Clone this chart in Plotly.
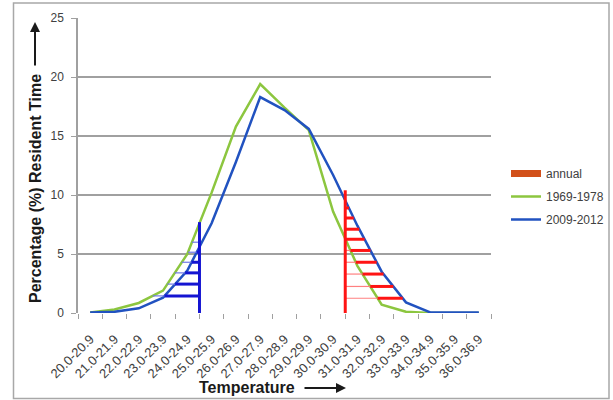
import plotly.graph_objects as go

categories = ["20.0-20.9", "21.0-21.9", "22.0-22.9", "23.0-23.9", "24.0-24.9",
              "25.0-25.9", "26.0-26.9", "27.0-27.9", "28.0-28.9", "29.0-29.9",
              "30.0-30.9", "31.0-31.9", "32.0-32.9", "33.0-33.9", "34.0-34.9",
              "35.0-35.9", "36.0-36.9"]
green_1969_1978 = [0.05, 0.3, 0.85, 1.9, 5.0, 10.2, 15.8, 19.4, 17.4, 15.5,
                   8.6, 4.0, 0.7, 0.1, 0.0, 0.0, 0.0]
blue_2009_2012 = [0.05, 0.1, 0.4, 1.3, 3.6, 7.6, 12.8, 18.3, 17.2, 15.6,
                  11.7, 7.4, 3.5, 0.9, 0.05, 0.05, 0.05]
y_ticks = [0, 5, 10, 15, 20, 25]

# hatching (cold side, blue) and (warm side, red)
cold_cut_category = 5      # cut at left boundary of "25.0-25.9"
cold_cut_top = 7.7
cold_levels = [1.45, 2.45, 3.4, 4.3, 5.15, 6.0]
warm_cut_category = 11     # cut at left boundary of "31.0-31.9"
warm_cut_top = 10.4
warm_levels = [1.25, 2.25, 3.3, 4.3, 5.3, 6.25, 7.1, 8.05, 8.9]

x = list(range(len(categories)))

# plot area in pixels
PL, PR, PT, PB = 78, 491, 18, 313
W, H = 613, 400


def px(xp):
    return (xp - PL) / (PR - PL)


def py(yp):
    return (PB - yp) / (PB - PT)


def cross(y, level, lo, hi):
    for i in range(lo, hi):
        a, b = y[i], y[i + 1]
        if a != b and (a - level) * (b - level) <= 0:
            return i + (level - a) / (b - a)
    return None


GREEN = "#8cc63f"
BLUE = "#2152c0"
HBLUE = "#1414d2"
HBLUE_T = "#6f78e6"
HRED = "#ff1414"
HRED_T = "#ff8080"
peak = green_1969_1978.index(max(green_1969_1978))

fig = go.Figure()

# legend-only entry for "annual"
fig.add_trace(go.Scatter(x=[None], y=[None], mode="lines", name="annual", legendgroup="a",
                         line=dict(color="#d2501a", width=7)))
fig.add_trace(go.Scatter(x=x, y=green_1969_1978, mode="lines", name="1969-1978", legendgroup="b",
                         line=dict(color=GREEN, width=2.5)))
fig.add_trace(go.Scatter(x=x, y=blue_2009_2012, mode="lines", name="2009-2012", legendgroup="c",
                         line=dict(color=BLUE, width=2.5)))

# cold side hatch
cx = cold_cut_category - 0.5
thin_x, thin_y, thick_x, thick_y = [], [], [], []
for L in cold_levels:
    xg = cross(green_1969_1978, L, 0, peak)
    xb = cross(blue_2009_2012, L, 0, peak)
    xm = min(xb, cx)
    if xg < xm:
        thin_x += [xg, xm, None]; thin_y += [L, L, None]
    if xm < cx:
        thick_x += [xm, cx, None]; thick_y += [L, L, None]
fig.add_trace(go.Scatter(x=thin_x, y=thin_y, mode="lines", showlegend=False,
                         line=dict(color=HBLUE_T, width=1.2)))
fig.add_trace(go.Scatter(x=thick_x, y=thick_y, mode="lines", showlegend=False,
                         line=dict(color=HBLUE, width=3)))
fig.add_trace(go.Scatter(x=[cx, cx], y=[0, cold_cut_top], mode="lines", showlegend=False,
                         line=dict(color=HBLUE, width=3)))

# warm side hatch
wx = warm_cut_category - 0.5
thin_x, thin_y, thick_x, thick_y = [], [], [], []
for L in warm_levels:
    xg = cross(green_1969_1978, L, peak, len(x) - 1)
    xb = cross(blue_2009_2012, L, peak, len(x) - 1)
    xm = max(xg, wx)
    if xm > wx:
        thin_x += [wx, xm, None]; thin_y += [L, L, None]
    if xb > xm:
        thick_x += [xm, xb, None]; thick_y += [L, L, None]
fig.add_trace(go.Scatter(x=thin_x, y=thin_y, mode="lines", showlegend=False,
                         line=dict(color=HRED_T, width=1.2)))
fig.add_trace(go.Scatter(x=thick_x, y=thick_y, mode="lines", showlegend=False,
                         line=dict(color=HRED, width=3)))
fig.add_trace(go.Scatter(x=[wx, wx], y=[0, warm_cut_top], mode="lines", showlegend=False,
                         line=dict(color=HRED, width=3)))

GRID = "#a0a0a0"
TXT = "#404040"

fig.update_layout(
    width=W, height=H,
    margin=dict(l=PL, r=W - PR, t=PT, b=H - PB, autoexpand=False),
    paper_bgcolor="white", plot_bgcolor="white",
    font=dict(family="Liberation Sans, Arial, sans-serif", color=TXT),
    showlegend=True,
    legend=dict(x=px(506), y=py(159), xanchor="left", yanchor="top",
                font=dict(size=12, color=TXT), tracegroupgap=4,
                bgcolor="rgba(0,0,0,0)", itemwidth=30),
    xaxis=dict(range=[-0.5, len(categories) - 0.5], tickmode="array",
               tickvals=x, ticktext=categories, tickangle=-45,
               tickfont=dict(size=13, color=TXT), ticks="", ticklabelstandoff=15,
               showgrid=False, zeroline=False, showline=False,
               minor=dict(tickmode="array", tickvals=[i - 0.5 for i in range(len(categories) + 1)],
                          ticks="outside", ticklen=5, tickcolor=GRID, showgrid=False)),
    yaxis=dict(range=[0, 25], tickmode="array", tickvals=y_ticks,
               tickfont=dict(size=12, color=TXT), ticks="outside", ticklen=5,
               tickcolor=GRID, showgrid=True, gridcolor=GRID, gridwidth=2,
               ticklabelstandoff=5,
               zeroline=False, showline=True, linecolor=GRID, linewidth=1.5),
    shapes=[dict(type="rect", xref="paper", yref="paper",
                 x0=px(13.5), x1=px(609), y0=py(398.5), y1=py(3),
                 line=dict(color="#a8a8a8", width=1.5))],
    annotations=[
        dict(text="<b>Percentage (%) Resident Time</b>", xref="paper", yref="paper",
             x=px(35), y=py(189), xanchor="center", yanchor="middle",
             textangle=-90, showarrow=False,
             font=dict(size=16, color="#1a1a1a", family="Liberation Sans, Arial")),
        dict(text="", xref="paper", yref="paper", x=px(35), y=py(22),
             ax=0, ay=45, axref="pixel", ayref="pixel",
             showarrow=True, arrowhead=2, arrowsize=1, arrowwidth=2, arrowcolor="#1a1a1a"),
        dict(text="<b>Temperature</b>", xref="paper", yref="paper",
             x=px(247), y=py(387), xanchor="center", yanchor="middle", showarrow=False,
             font=dict(size=16, color="#1a1a1a", family="Liberation Sans, Arial")),
        dict(text="", xref="paper", yref="paper", x=px(346), y=py(388),
             ax=-43, ay=0, axref="pixel", ayref="pixel",
             showarrow=True, arrowhead=2, arrowsize=1, arrowwidth=2, arrowcolor="#1a1a1a"),
    ],
)

fig.write_html("out.html", config={"displayModeBar": False},
               post_script="document.body.style.margin='0';document.body.style.overflow='hidden';")
